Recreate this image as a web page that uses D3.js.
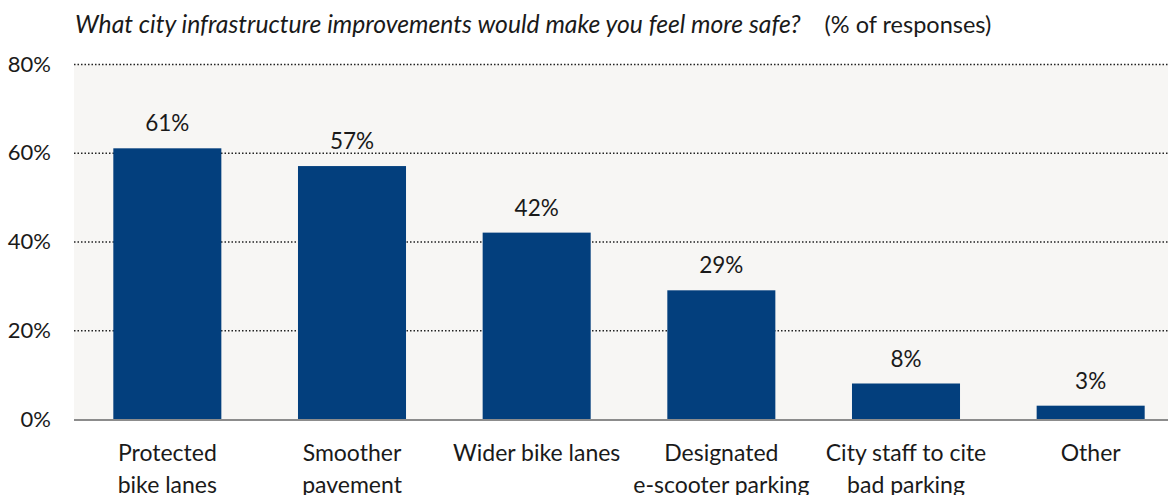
<!DOCTYPE html>
<html>
<head>
  <script src="https://d3js.org/d3.v7.min.js"></script>
  <style>
    body { margin: 0; background: #fff; }
    text { font-family: Lato, "Open Sans", sans-serif; fill: #1a1a1a; }
  </style>
</head>
<body>
  <svg id="chart" width="1168" height="495"></svg>
  <script>
    // chart data
    var categories = [
      ["Protected", "bike lanes"],
      ["Smoother", "pavement"],
      ["Wider bike lanes"],
      ["Designated", "e-scooter parking"],
      ["City staff to cite", "bad parking"],
      ["Other"]
    ];
    var values = [61, 57, 42, 29, 8, 3];
    var yTicks = [0, 20, 40, 60, 80];

    var svg = d3.select("#chart");
    var plotLeft = 74, plotRight = 1182, plotTop = 64, plotBottom = 419;

    var x = d3.scaleBand()
              .domain(d3.range(categories.length))
              .range([plotLeft + 1, plotRight + 1])
              .paddingInner(0.415)
              .paddingOuter(0.2075);

    var y = d3.scaleLinear().domain([0, 80]).range([plotBottom, plotTop]);

    /* plot background */
    svg.append("rect")
       .attr("x", plotLeft).attr("y", plotTop)
       .attr("width", 1168 - plotLeft).attr("height", plotBottom - plotTop)
       .attr("fill", "#f7f6f4");

    /* dotted gridlines */
    svg.append("g").selectAll("line")
       .data(yTicks.filter(function(d) { return d > 0; }))
       .enter().append("line")
       .attr("x1", plotLeft).attr("x2", 1168)
       .attr("y1", function(d) { return y(d) + 0.5; })
       .attr("y2", function(d) { return y(d) + 0.5; })
       .attr("stroke", "#222")
       .attr("stroke-width", 1.3)
       .attr("stroke-dasharray", "1.5,2");

    /* y axis labels */
    var yAxis = d3.axisLeft(y).tickValues(yTicks)
                  .tickFormat(function(d) { return d + "%"; })
                  .tickSize(0).tickPadding(0);
    var ya = svg.append("g").attr("transform", "translate(51,0)").call(yAxis);
    ya.select(".domain").remove();
    ya.selectAll("text")
      .style("font-family", "Lato, sans-serif")
      .style("font-size", "22px")
      .attr("fill", "#1a1a1a");

    /* bars */
    svg.append("g").selectAll("rect")
       .data(values)
       .enter().append("rect")
       .attr("x", function(d, i) { return x(i); })
       .attr("y", function(d) { return y(d); })
       .attr("width", x.bandwidth())
       .attr("height", function(d) { return y(0) - y(d); })
       .attr("fill", "#033f7d");

    /* value labels */
    svg.append("g").selectAll("text")
       .data(values)
       .enter().append("text")
       .attr("x", function(d, i) { return x(i) + x.bandwidth() / 2; })
       .attr("y", function(d) { return y(d) - 17; })
       .attr("text-anchor", "middle")
       .style("font-size", "22.5px")
       .text(function(d) { return d + "%"; });

    /* zero line */
    svg.append("line")
       .attr("x1", plotLeft).attr("x2", 1168)
       .attr("y1", plotBottom + 1).attr("y2", plotBottom + 1)
       .attr("stroke", "#8c8c8c").attr("stroke-width", 2);

    /* category labels */
    var cat = svg.append("g").selectAll("text")
       .data(categories)
       .enter().append("text")
       .attr("text-anchor", "middle")
       .style("font-size", "23px")
       .attr("transform", function(d, i) {
         return "translate(" + (x(i) + x.bandwidth() / 2) + ",461)";
       });
    cat.selectAll("tspan")
       .data(function(d) { return d; })
       .enter().append("tspan")
       .attr("x", 0)
       .attr("dy", function(d, i) { return i === 0 ? 0 : 32; })
       .text(function(d) { return d; });

    /* title */
    var title = svg.append("text")
       .attr("x", 75).attr("y", 33)
       .style("font-size", "23.5px");
    title.append("tspan").style("font-style", "italic").style("font-size", "24.7px")
         .text("What city infrastructure improvements would make you feel more safe?");
    title.append("tspan").attr("dx", 24).text("(% of responses)");
  </script>
</body>
</html>
